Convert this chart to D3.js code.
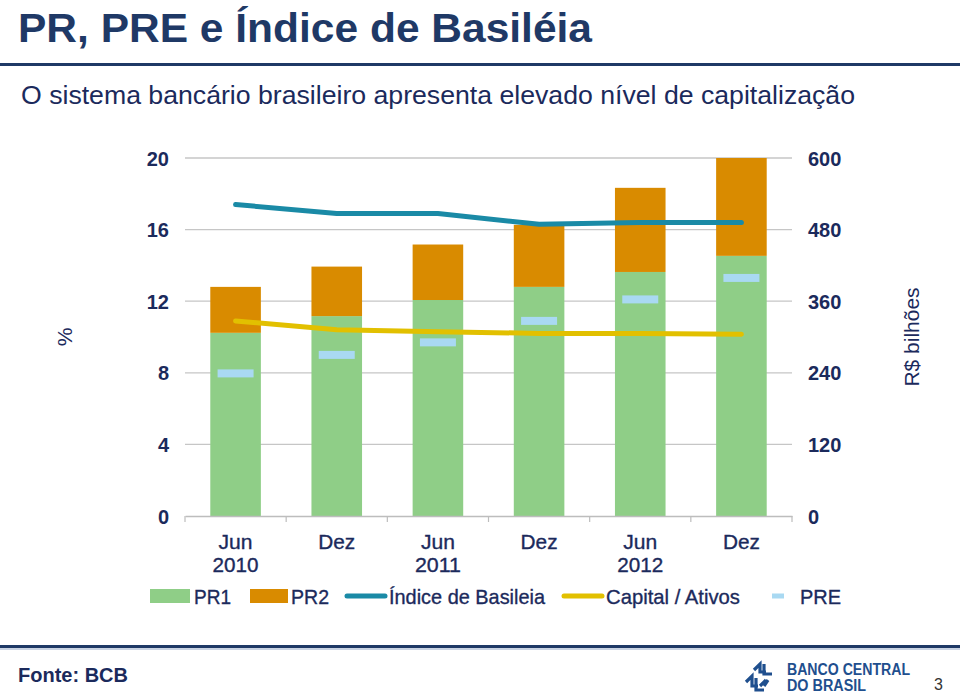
<!DOCTYPE html>
<html><head><meta charset="utf-8">
<script src="https://cdn.jsdelivr.net/npm/d3@7"></script>
<style>
html,body{margin:0;padding:0;background:#fff;}
svg{display:block;}
</style></head>
<body>
<script>
// ---- data ----
const catMonth = ["Jun","Dez","Jun","Dez","Jun","Dez"];
const catYear  = ["2010","","2011","","2012",""];
const pr1 = [307, 335, 362, 384, 409, 436];          // R$ bilhões
const pr2 = [77, 83, 93, 104, 141, 164];             // R$ bilhões
const pre = [239, 270, 291, 327, 363, 399];          // R$ bilhões
const basileia = [17.4, 16.9, 16.9, 16.3, 16.4, 16.4];      // %
const capitalAtivos = [10.9, 10.4, 10.3, 10.2, 10.2, 10.15]; // %
const leftTicks = [0, 4, 8, 12, 16, 20];
const rightTicks = [0, 120, 240, 360, 480, 600];
const legendItems = ["PR1","PR2","Índice de Basileia","Capital / Ativos","PRE"];

const W = 960, H = 697;
const navy = "#1b2a5c", titleCol = "#1f3966";
const cGreen = "#8fce87", cOrange = "#d98b00", cTeal = "#1a8aa6", cYellow = "#e2c000", cPre = "#a9d9f2";
const fontA = "'Liberation Sans',Arial,sans-serif";

const svg = d3.select("body").append("svg").attr("width", W).attr("height", H);

// header
svg.append("text").attr("x", 18).attr("y", 42).attr("font-family", fontA).attr("font-weight", "bold")
  .attr("font-size", 40).attr("fill", titleCol)
  .attr("textLength", 574).attr("lengthAdjust", "spacingAndGlyphs").text("PR, PRE e Índice de Basiléia");
svg.append("rect").attr("x", 0).attr("y", 63).attr("width", W).attr("height", 3).attr("fill", titleCol);
svg.append("text").attr("x", 21).attr("y", 104).attr("font-family", fontA)
  .attr("font-size", 26).attr("fill", navy)
  .attr("textLength", 834).attr("lengthAdjust", "spacingAndGlyphs")
  .text("O sistema bancário brasileiro apresenta elevado nível de capitalização");

// scales
const x = d3.scaleBand().domain(d3.range(catMonth.length)).range([185, 792]).paddingInner(0.5).paddingOuter(0.25);
const yL = d3.scaleLinear().domain([0, 20]).range([516, 158]);
const yR = d3.scaleLinear().domain([0, 600]).range([516, 158]);

// gridlines
svg.append("g").selectAll("line").data(leftTicks.filter(d => d > 0)).join("line")
  .attr("x1", 185).attr("x2", 792).attr("y1", d => yL(d)).attr("y2", d => yL(d))
  .attr("stroke", "#c6c6c6").attr("stroke-width", 1.3);

// axes labels
const gl = svg.append("g").attr("transform", "translate(169,0)")
  .call(d3.axisLeft(yL).tickValues(leftTicks).tickSize(0).tickPadding(0));
gl.select(".domain").remove();
gl.selectAll("text").attr("font-family", fontA).attr("font-size", 20).attr("font-weight", "bold")
  .attr("fill", navy).attr("dy", "0.35em");

const gr = svg.append("g").attr("transform", "translate(808,0)")
  .call(d3.axisRight(yR).tickValues(rightTicks).tickSize(0).tickPadding(0));
gr.select(".domain").remove();
gr.selectAll("text").attr("font-family", fontA).attr("font-size", 20).attr("font-weight", "bold")
  .attr("fill", navy).attr("dy", "0.35em");

svg.append("text").attr("transform", "translate(72,337) rotate(-90)").attr("text-anchor", "middle")
  .attr("font-family", fontA).attr("font-size", 21).attr("fill", navy).text("%");
svg.append("text").attr("transform", "translate(919,337) rotate(-90)").attr("text-anchor", "middle")
  .attr("font-family", fontA).attr("font-size", 21).attr("fill", navy).text("R$ bilhões");

// bars
const idx = d3.range(catMonth.length);
svg.append("g").selectAll("rect").data(idx).join("rect")
  .attr("x", i => x(i)).attr("width", x.bandwidth())
  .attr("y", i => yR(pr1[i])).attr("height", i => yR(0) - yR(pr1[i])).attr("fill", cGreen);
svg.append("g").selectAll("rect").data(idx).join("rect")
  .attr("x", i => x(i)).attr("width", x.bandwidth())
  .attr("y", i => yR(pr1[i] + pr2[i])).attr("height", i => yR(pr1[i]) - yR(pr1[i] + pr2[i])).attr("fill", cOrange);

// PRE markers
svg.append("g").selectAll("rect").data(idx).join("rect")
  .attr("x", i => x(i) + x.bandwidth() / 2 - 18).attr("width", 36)
  .attr("y", i => yR(pre[i]) - 4).attr("height", 8).attr("fill", cPre);

// lines
const cx = i => x(i) + x.bandwidth() / 2;
const lineB = d3.line().x(i => cx(i)).y(i => yL(basileia[i]));
const lineC = d3.line().x(i => cx(i)).y(i => yL(capitalAtivos[i]));
svg.append("path").attr("d", lineB(idx)).attr("fill", "none").attr("stroke", cTeal)
  .attr("stroke-width", 5).attr("stroke-linecap", "round").attr("stroke-linejoin", "round");
svg.append("path").attr("d", lineC(idx)).attr("fill", "none").attr("stroke", cYellow)
  .attr("stroke-width", 5).attr("stroke-linecap", "round").attr("stroke-linejoin", "round");

// x axis
const gx = svg.append("g").attr("transform", "translate(0,516)")
  .call(d3.axisBottom(x).tickSize(0).tickFormat(""));
gx.select(".domain").attr("stroke", "#bdbdbd").attr("stroke-width", 1.5);
gx.selectAll(".tick").remove();
const step = x.step();
const x0 = x(0) - x.paddingOuter() * step - step * x.paddingInner() / 2 + step * x.paddingInner() / 2;
svg.append("g").selectAll("line").data(d3.range(catMonth.length + 1)).join("line")
  .attr("x1", i => x0 + i * step).attr("x2", i => x0 + i * step)
  .attr("y1", 516).attr("y2", 522).attr("stroke", "#bdbdbd").attr("stroke-width", 1.2);

const labStyle = sel => sel.attr("text-anchor", "middle").attr("font-family", fontA).attr("font-size", 21)
  .attr("fill", navy).attr("stroke", navy).attr("stroke-width", 0.35).attr("lengthAdjust", "spacingAndGlyphs");
const lab = svg.append("g").selectAll("g").data(idx).join("g");
lab.append("text").attr("x", cx).attr("y", 549).call(labStyle)
  .attr("textLength", i => catMonth[i] === "Jun" ? 34 : 37).text(i => catMonth[i]);
lab.filter(i => catYear[i] !== "").append("text").attr("x", cx).attr("y", 572).call(labStyle)
  .attr("textLength", 46).text(i => catYear[i]);

// legend
const leg = svg.append("g");
const lx = [150, 250, 345, 562, 772];
const ly = 596;
leg.append("rect").attr("x", lx[0]).attr("y", ly - 7).attr("width", 40).attr("height", 14).attr("fill", cGreen);
leg.append("rect").attr("x", lx[1]).attr("y", ly - 7).attr("width", 38).attr("height", 14).attr("fill", cOrange);
leg.append("line").attr("x1", lx[2] + 2).attr("x2", lx[2] + 40).attr("y1", ly).attr("y2", ly)
  .attr("stroke", cTeal).attr("stroke-width", 5).attr("stroke-linecap", "round");
leg.append("line").attr("x1", lx[3] + 2).attr("x2", lx[3] + 40).attr("y1", ly).attr("y2", ly)
  .attr("stroke", cYellow).attr("stroke-width", 5).attr("stroke-linecap", "round");
leg.append("rect").attr("x", lx[4]).attr("y", ly - 2.5).attr("width", 12).attr("height", 5).attr("fill", cPre);
const tx = [194, 291, 389, 606, 800];
const tw = [37, 38, 156, 134, 41];
leg.selectAll("text").data(legendItems).join("text")
  .attr("x", (d, i) => tx[i]).attr("y", ly + 8).attr("font-family", fontA).attr("font-size", 21)
  .attr("fill", navy).attr("stroke", navy).attr("stroke-width", 0.35)
  .attr("textLength", (d, i) => tw[i]).attr("lengthAdjust", "spacingAndGlyphs").text(d => d);

// footer
svg.append("rect").attr("x", 0).attr("y", 645).attr("width", W).attr("height", 3).attr("fill", titleCol);
svg.append("rect").attr("x", 0).attr("y", 648).attr("width", W).attr("height", 2).attr("fill", "#c9d3e3");
svg.append("text").attr("x", 18).attr("y", 682).attr("font-family", fontA).attr("font-weight", "bold")
  .attr("font-size", 20).attr("fill", navy).text("Fonte: BCB");
svg.append("text").attr("x", 934).attr("y", 690).attr("font-family", fontA)
  .attr("font-size", 16).attr("fill", "#333").text("3");

// logo
const logo = svg.append("g").attr("transform", "translate(746,656)");
const lc = "#1f4f8e";
logo.append("path").attr("d", "M8 14 L14 8 L14 16 L20 16 M18 8 L18 18 L26 18 M0 26 L6 20 L6 30 L12 30 M10 22 L10 34 L18 34 M14 30 L20 24 M22 24 L18 30")
  .attr("fill", "none").attr("stroke", lc).attr("stroke-width", 3.2);
logo.append("text").attr("x", 41).attr("y", 19).attr("font-family", fontA).attr("font-weight", "bold")
  .attr("font-size", 16).attr("fill", lc).attr("textLength", 123).attr("lengthAdjust", "spacingAndGlyphs").text("BANCO CENTRAL");
logo.append("text").attr("x", 41).attr("y", 35).attr("font-family", fontA).attr("font-weight", "bold")
  .attr("font-size", 16).attr("fill", lc).attr("textLength", 79).attr("lengthAdjust", "spacingAndGlyphs").text("DO BRASIL");
</script>
</body></html>
